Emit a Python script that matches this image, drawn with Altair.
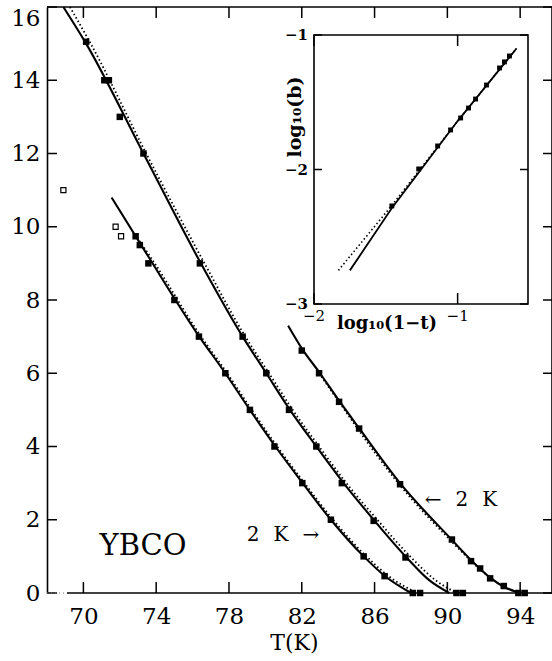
import altair as alt
import pandas as pd

# ---------------- main panel data ----------------
xtick_vals = [70, 74, 78, 82, 86, 90, 94]
ytick_vals = [0, 2, 4, 6, 8, 10, 12, 14, 16]

# solid fit curves
A_T = [68.9, 70.15, 73.3, 76.4, 78.75, 80.05, 81.35, 82.8, 84.3, 85.95, 87.7, 89.0, 90.1]
A_v = [16.0, 15.0, 12.0, 9.05, 7.0, 6.0, 5.0, 4.0, 3.0, 2.0, 1.0, 0.35, 0.0]
B_T = [81.25, 82.0, 83.0, 84.05, 85.15, 87.4, 90.25, 91.3, 92.35, 93.1, 94.0]
B_v = [7.3, 6.68, 6.0, 5.25, 4.5, 3.0, 1.45, 0.9, 0.42, 0.17, 0.0]
C_T = [71.55, 73.55, 76.3, 77.8, 79.15, 80.55, 82.05, 83.6, 85.4, 86.6, 88.0]
C_v = [10.8, 9.2, 7.05, 6.0, 5.0, 4.0, 3.0, 2.0, 1.0, 0.45, 0.0]

# dotted fit curves
Ad_T = [69.26, 70.4, 73.45, 76.6, 78.9, 80.2, 81.5, 82.95, 84.45, 86.15, 87.95, 89.35, 90.5]
Ad_v = [16.0, 15.0, 12.0, 9.05, 7.0, 6.0, 5.0, 4.0, 3.0, 2.0, 1.0, 0.35, 0.0]
Bd_T = [82.95, 84.0, 85.05, 87.3, 90.15, 91.25, 92.35, 93.1, 94.05]
Bd_v = [6.0, 5.25, 4.5, 3.0, 1.45, 0.9, 0.42, 0.17, 0.0]
Cd_T = [72.95, 73.65, 76.4, 77.9, 79.25, 80.65, 82.15, 83.72, 85.55, 86.8, 88.35]
Cd_v = [9.7, 9.2, 7.05, 6.0, 5.0, 4.0, 3.0, 2.0, 1.0, 0.45, 0.0]

# measured points (filled squares)
pA_T = [70.15, 71.15, 71.4, 72.0, 73.3, 76.4, 78.75, 80.05, 81.3, 82.8, 84.2, 85.95, 87.7, 90.5, 90.85]
pA_v = [15.05, 14.0, 14.0, 13.0, 12.0, 9.0, 7.0, 6.0, 5.0, 4.0, 3.0, 1.97, 0.97, 0.0, 0.0]
pB_T = [82.0, 82.95, 84.05, 85.15, 87.4, 90.25, 91.3, 91.8, 92.35, 93.1, 93.9, 94.25]
pB_v = [6.62, 6.0, 5.22, 4.49, 2.97, 1.46, 0.87, 0.67, 0.4, 0.19, 0.0, 0.0]
pC_T = [72.87, 73.1, 73.57, 75.0, 76.35, 77.8, 79.15, 80.5, 82.03, 83.6, 85.4, 86.55, 88.1, 88.5]
pC_v = [9.74, 9.5, 9.0, 8.0, 7.0, 6.0, 5.0, 4.0, 3.0, 2.0, 1.0, 0.46, 0.0, 0.0]

# open squares
open_T = [68.9, 71.77, 72.07]
open_v = [11.0, 10.0, 9.74]

# ---------------- inset data ----------------
inset_xticks = [-2, -1]
inset_xtick_labels = ["\u22122", "\u22121"]
inset_yticks = [-1, -2, -3]
inset_ytick_labels = ["\u22121", "\u22122", "\u22123"]

in_solid_x = [-1.75, -1.46, -1.0, -0.59]
in_solid_y = [-2.75, -2.29, -1.64, -1.10]
in_dot_x = [-1.83, -1.46, -1.0, -0.59]
in_dot_y = [-2.75, -2.27, -1.64, -1.10]
in_pts_x = [-0.639, -0.674, -0.708, -0.799, -0.875, -0.924, -0.979, -1.049, -1.139, -1.271, -1.458]
in_pts_y = [-1.156, -1.20, -1.245, -1.372, -1.476, -1.543, -1.617, -1.706, -1.825, -1.996, -2.271]

# ---------------- layout ----------------
W, H = 505, 586
FONT = "DejaVu Serif"
xs = alt.Scale(domain=[68, 95.75], nice=False, zero=False)
ys = alt.Scale(domain=[0, 16], nice=False, zero=False)


def frame(name, T, v):
    return pd.DataFrame({"T": T, "v": v, "curve": name})


solid_df = pd.concat([frame("A", A_T, A_v), frame("B", B_T, B_v), frame("C", C_T, C_v)])
dot_df = pd.concat([frame("A", Ad_T, Ad_v), frame("B", Bd_T, Bd_v), frame("C", Cd_T, Cd_v)])
pts_df = pd.concat([frame("A", pA_T, pA_v), frame("B", pB_T, pB_v), frame("C", pC_T, pC_v)])
open_df = frame("open", open_T, open_v)

xaxis = alt.Axis(values=xtick_vals, ticks=False, domain=False, grid=False,
                 labelFont=FONT, labelFontSize=23, labelColor="black", labelPadding=12,
                 title="T(K)", titleFont=FONT, titleFontSize=22, titleFontWeight="normal",
                 titleColor="black", titleX=247, titleY=56, titleAlign="center",
                 titleBaseline="alphabetic")
yaxis = alt.Axis(values=ytick_vals, ticks=False, domain=True, domainColor="black",
                 domainWidth=1.6, grid=False, labelFont=FONT, labelFontSize=23,
                 labelColor="black", labelPadding=7, title="",
                 labelBaseline={"condition": {"test": "datum.value == 16", "value": "top"},
                                "value": "middle"})


def X(field):
    return alt.X(field, scale=xs, axis=xaxis, title="T(K)")


def Y(field):
    return alt.Y(field, scale=ys, axis=yaxis, title="")


solid = alt.Chart(solid_df).mark_line(color="black", strokeWidth=2.1, interpolate="monotone").encode(
    x=X("T:Q"), y=Y("v:Q"), detail="curve:N")
dotted = alt.Chart(dot_df).mark_line(color="black", strokeWidth=1.8, strokeDash=[1.5, 2.5],
                                     interpolate="monotone").encode(
    x=X("T:Q"), y=Y("v:Q"), detail="curve:N")
points = alt.Chart(pts_df).mark_square(size=42, color="black", opacity=1).encode(
    x=X("T:Q"), y=Y("v:Q"))
opens = alt.Chart(open_df).mark_point(shape="square", filled=False, size=26, color="black",
                                      strokeWidth=1.2, opacity=1).encode(
    x=X("T:Q"), y=Y("v:Q"))

xt = pd.DataFrame({"t": xtick_vals})
yt = pd.DataFrame({"t": ytick_vals})
one = pd.DataFrame({"k": [0]})

tick_style = dict(color="black", strokeWidth=1.5)
bottom_ticks = alt.Chart(xt).mark_rule(**tick_style).encode(
    x=X("t:Q"), y=alt.value(H), y2=alt.value(H - 11))
top_ticks = alt.Chart(xt).mark_rule(**tick_style).encode(
    x=X("t:Q"), y=alt.value(0), y2=alt.value(11))
left_ticks = alt.Chart(yt).mark_rule(**tick_style).encode(
    y=Y("t:Q"), x=alt.value(0), x2=alt.value(10))
right_ticks = alt.Chart(yt).mark_rule(**tick_style).encode(
    y=Y("t:Q"), x=alt.value(W - 9), x2=alt.value(W))
top_line = alt.Chart(one).mark_rule(color="black", strokeWidth=1.6).encode(
    x=alt.value(0), x2=alt.value(W), y=alt.value(0))
bottom_line = alt.Chart(one).mark_rule(color="black", strokeWidth=1.6).encode(
    x=alt.value(20), x2=alt.value(W), y=alt.value(H))
bottom_gap = alt.Chart(one).mark_rule(color="#777777", strokeWidth=1, strokeDash=[1, 3]).encode(
    x=alt.value(0), x2=alt.value(20), y=alt.value(H))
right_line = alt.Chart(one).mark_rule(color="black", strokeWidth=1.6).encode(
    x=alt.value(W), y=alt.value(0), y2=alt.value(H))

ybco = alt.Chart(one).mark_text(text="YBCO", font=FONT, fontSize=29, color="black").encode(
    x=alt.value(96), y=alt.value(539))
lab1 = alt.Chart(one).mark_text(text="2\u2002\u2009K\u2002\u2009\u2192", font=FONT, fontSize=20,
                                color="black").encode(x=alt.value(236), y=alt.value(528))
lab2 = alt.Chart(one).mark_text(text="\u2190\u2002\u20092\u2002\u2009K", font=FONT, fontSize=20,
                                color="black").encode(x=alt.value(414), y=alt.value(493))

main = alt.layer(solid, dotted, points, opens, bottom_ticks, top_ticks, left_ticks,
                 right_ticks, top_line, bottom_line, bottom_gap, right_line, ybco, lab1, lab2)

# ---------------- inset ----------------
IX0, IX1, IY0, IY1 = 267, 481, 297, 28
ixs = alt.Scale(domain=[-2, -0.51], range=[IX0, IX1], nice=False, zero=False)
iys = alt.Scale(domain=[-3, -1], range=[IY0, IY1], nice=False, zero=False)

in_solid_df = pd.DataFrame({"x": in_solid_x, "y": in_solid_y})
in_dot_df = pd.DataFrame({"x": in_dot_x, "y": in_dot_y})
in_pts_df = pd.DataFrame({"x": in_pts_x, "y": in_pts_y})
ixt = pd.DataFrame({"t": inset_xticks, "label": inset_xtick_labels})
iyt = pd.DataFrame({"t": inset_yticks, "label": inset_ytick_labels})

in_box = alt.Chart(one).mark_rect(fill="white", stroke="black", strokeWidth=1.6).encode(
    x=alt.value(IX0), x2=alt.value(IX1), y=alt.value(IY1), y2=alt.value(IY0))
in_solid = alt.Chart(in_solid_df).mark_line(color="black", strokeWidth=1.8).encode(
    x=alt.X("x:Q", scale=ixs, axis=None), y=alt.Y("y:Q", scale=iys, axis=None))
in_dot = alt.Chart(in_dot_df).mark_line(color="black", strokeWidth=1.6, strokeDash=[1.5, 2.5]).encode(
    x=alt.X("x:Q", scale=ixs, axis=None), y=alt.Y("y:Q", scale=iys, axis=None))
in_pts = alt.Chart(in_pts_df).mark_square(size=24, color="black", opacity=1).encode(
    x=alt.X("x:Q", scale=ixs, axis=None), y=alt.Y("y:Q", scale=iys, axis=None))
in_bt = alt.Chart(ixt).mark_rule(color="black", strokeWidth=1.5).encode(
    x=alt.X("t:Q", scale=ixs, axis=None), y=alt.value(IY0), y2=alt.value(IY0 - 11))
in_tt = alt.Chart(ixt).mark_rule(color="black", strokeWidth=1.5).encode(
    x=alt.X("t:Q", scale=ixs, axis=None), y=alt.value(IY1), y2=alt.value(IY1 + 11))
in_lt = alt.Chart(iyt).mark_rule(color="black", strokeWidth=1.5).encode(
    y=alt.Y("t:Q", scale=iys, axis=None), x=alt.value(IX0), x2=alt.value(IX0 + 8))
in_rt = alt.Chart(iyt).mark_rule(color="black", strokeWidth=1.5).encode(
    y=alt.Y("t:Q", scale=iys, axis=None), x=alt.value(IX1 - 8), x2=alt.value(IX1))
in_ylab = alt.Chart(iyt).mark_text(font=FONT, fontSize=15, fontWeight="bold", color="black",
                                   align="right", baseline="middle").encode(
    y=alt.Y("t:Q", scale=iys, axis=None), x=alt.value(IX0 - 6), text="label:N")
in_xlab = alt.Chart(ixt).mark_text(font=FONT, fontSize=15, color="black",
                                   align="center", baseline="middle").encode(
    x=alt.X("t:Q", scale=ixs, axis=None), y=alt.value(309), text="label:N")
in_xtitle = alt.Chart(one).mark_text(text="log\u2081\u2080(1\u2212t)", font=FONT, fontSize=18,
                                     fontWeight="bold", color="black").encode(
    x=alt.value(340), y=alt.value(317))
in_ytitle = alt.Chart(one).mark_text(text="log\u2081\u2080(b)", font=FONT, fontSize=19,
                                     fontWeight="bold", color="black", angle=270).encode(
    x=alt.value(248), y=alt.value(110))

inset = alt.layer(in_box, in_dot, in_solid, in_pts, in_bt, in_tt, in_lt, in_rt,
                  in_ylab, in_xlab, in_xtitle, in_ytitle)

chart = alt.layer(main, inset).resolve_scale(x="independent", y="independent").properties(
    width=W, height=H,
    autosize=alt.AutoSizeParams(type="none"),
    padding={"left": 47, "top": 7, "right": 0, "bottom": 68},
    background="white",
).configure_view(stroke=None)

chart.save("out.html", embed_options={"renderer": "svg", "actions": False})
